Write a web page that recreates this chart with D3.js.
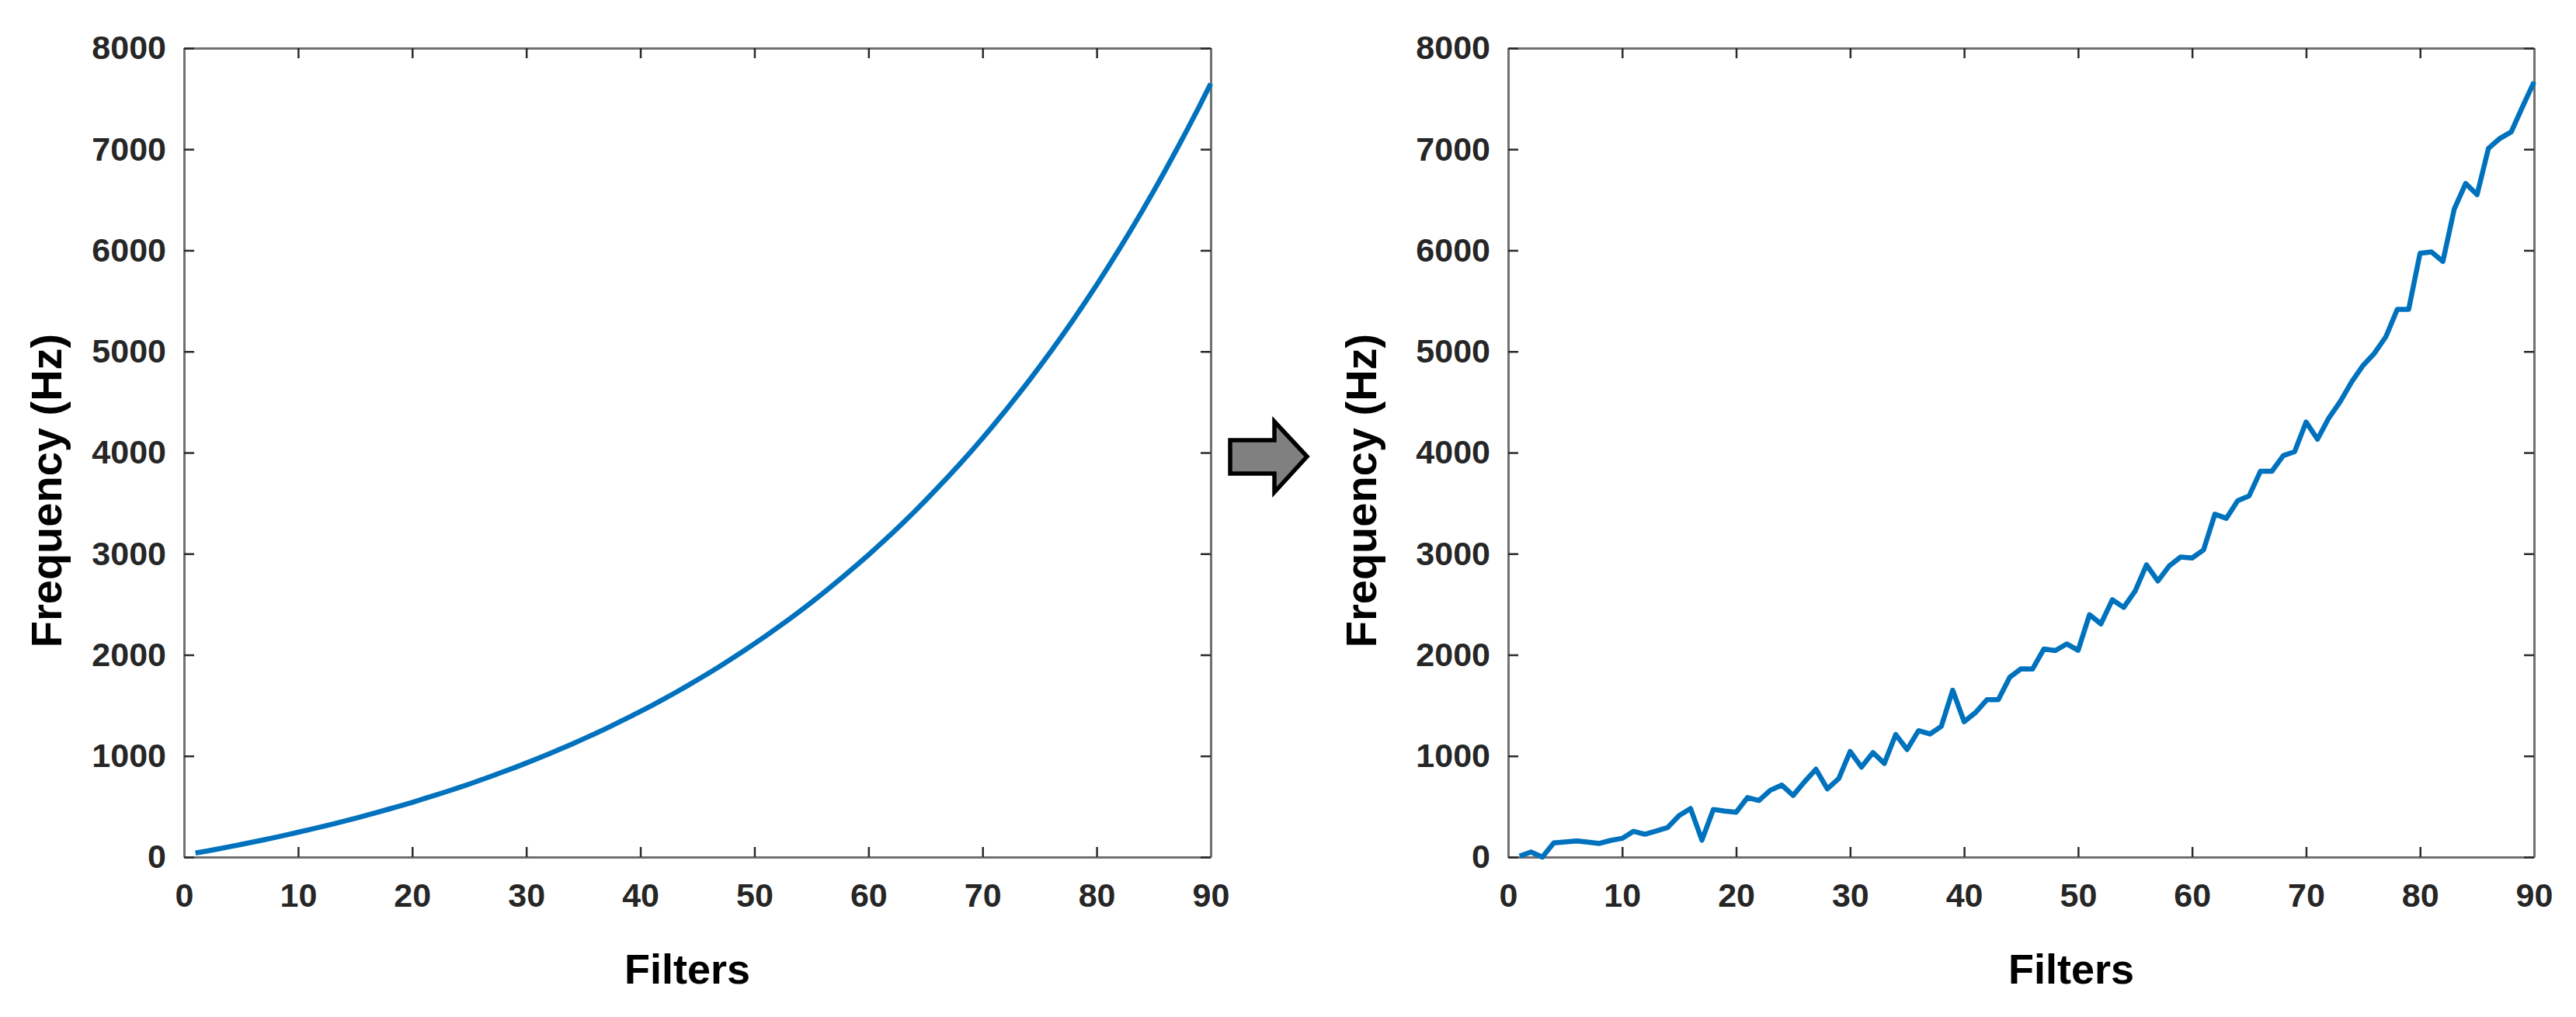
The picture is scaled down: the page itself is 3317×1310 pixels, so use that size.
<!DOCTYPE html>
<html>
<head>
<meta charset="utf-8">
<script src="https://cdn.jsdelivr.net/npm/d3@7"></script>
<style>
  html, body { margin: 0; padding: 0; background: #ffffff; }
  svg { display: block; }
  text { font-family: "Liberation Sans", Arial, sans-serif; font-weight: bold; }
</style>
</head>
<body>
<svg id="chart" width="3317" height="1310"></svg>
<script>
// ---- data ----
const filterIndex = d3.range(1, 91);

const idealFrequency = [
  40, 60, 81, 103, 125, 148, 171, 195, 220, 246,
  272, 298, 326, 354, 383, 413, 444, 476, 508, 541,
  576, 611, 647, 684, 722, 762, 802, 844, 886, 930,
  975, 1021, 1069, 1117, 1168, 1219, 1272, 1327, 1383, 1440,
  1499, 1560, 1622, 1686, 1752, 1820, 1889, 1961, 2034, 2110,
  2187, 2267, 2349, 2433, 2519, 2608, 2700, 2794, 2890, 2989,
  3091, 3195, 3303, 3413, 3527, 3644, 3764, 3887, 4013, 4143,
  4277, 4415, 4556, 4701, 4850, 5003, 5160, 5322, 5488, 5659,
  5835, 6015, 6201, 6391, 6587, 6788, 6995, 7207, 7425, 7649
];

const perturbedFrequency = [
  10, 50, 0, 140, 150, 160, 148, 135, 165, 185,
  255, 226, 258, 293, 410, 480, 168, 471, 455, 443,
  589, 560, 661, 712, 610, 745, 869, 675, 776, 1045,
  890, 1033, 926, 1212, 1064, 1250, 1217, 1293, 1650, 1339,
  1429, 1556, 1556, 1778, 1862, 1859, 2058, 2042, 2108, 2045,
  2397, 2306, 2545, 2469, 2630, 2890, 2730, 2880, 2968, 2958,
  3037, 3391, 3350, 3524, 3572, 3816, 3816, 3970, 4010, 4302,
  4132, 4343, 4505, 4700, 4862, 4983, 5146, 5417, 5417, 5972,
  5984, 5891, 6410, 6661, 6551, 7009, 7107, 7172, 7423, 7666
];

const xTicks = [0, 10, 20, 30, 40, 50, 60, 70, 80, 90];
const yTicks = [0, 1000, 2000, 3000, 4000, 5000, 6000, 7000, 8000];
const xLabel = "Filters";
const yLabel = "Frequency (Hz)";

// ---- layout ----
const svg = d3.select("#chart");
const panels = [
  { values: idealFrequency, left: 237, right: 1559, xLabelX: 885, yLabelX: 79 },
  { values: perturbedFrequency, left: 1942, right: 3263, xLabelX: 2667, yLabelX: 1772 }
];
const plotTop = 62, plotBottom = 1104;
const tickLen = 13;
const axisColor = "#707070";
const tickColor = "#2b2b2b";
const labelColor = "#262626";

function styleAxis(g, showLabels) {
  g.select(".domain").attr("stroke", axisColor).attr("stroke-width", 3);
  g.selectAll(".tick line").attr("stroke", tickColor).attr("stroke-width", 2.5);
  g.selectAll(".tick text")
    .attr("fill", labelColor)
    .style("font-size", "43px")
    .style("font-weight", "bold")
    .style("font-family", "'Liberation Sans', Arial, sans-serif");
  if (!showLabels) g.selectAll(".tick text").remove();
}

panels.forEach(p => {
  const x = d3.scaleLinear().domain([0, 90]).range([p.left, p.right]);
  const y = d3.scaleLinear().domain([0, 8000]).range([plotBottom, plotTop]);

  const gb = svg.append("g").attr("transform", `translate(0,${plotBottom})`)
    .call(d3.axisBottom(x).tickValues(xTicks).tickSize(-tickLen).tickSizeOuter(0).tickPadding(33).tickFormat(d3.format("d")));
  styleAxis(gb, true);
  const gt = svg.append("g").attr("transform", `translate(0,${plotTop})`)
    .call(d3.axisTop(x).tickValues(xTicks).tickSize(-tickLen).tickSizeOuter(0).tickFormat(""));
  styleAxis(gt, false);
  const gl = svg.append("g").attr("transform", `translate(${p.left},0)`)
    .call(d3.axisLeft(y).tickValues(yTicks).tickSize(-tickLen).tickSizeOuter(0).tickPadding(23).tickFormat(d3.format("d")));
  styleAxis(gl, true);
  const gr = svg.append("g").attr("transform", `translate(${p.right},0)`)
    .call(d3.axisRight(y).tickValues(yTicks).tickSize(-tickLen).tickSizeOuter(0).tickFormat(""));
  styleAxis(gr, false);

  const line = d3.line()
    .x((d, i) => x(filterIndex[i]))
    .y(d => y(d));
  svg.append("path")
    .datum(p.values)
    .attr("d", line)
    .attr("fill", "none")
    .attr("stroke", "#0072BD")
    .attr("stroke-width", 6.5)
    .attr("stroke-linejoin", "round")
    .attr("stroke-linecap", "butt");

  svg.append("text")
    .attr("x", p.xLabelX).attr("y", 1267)
    .attr("text-anchor", "middle")
    .attr("fill", "#000")
    .style("font-size", "54px")
    .text(xLabel);
  svg.append("text")
    .attr("transform", `translate(${p.yLabelX},632) rotate(-90)`)
    .attr("text-anchor", "middle")
    .attr("fill", "#000")
    .style("font-size", "56px")
    .text(yLabel);
});

svg.append("path")
  .attr("d", "M1584,567 L1641,567 L1641,543 L1683,588 L1641,634 L1641,610 L1584,610 Z")
  .attr("fill", "#808080")
  .attr("stroke", "#000")
  .attr("stroke-width", 5.5)
  .attr("stroke-linejoin", "miter");
</script>
</body>
</html>
